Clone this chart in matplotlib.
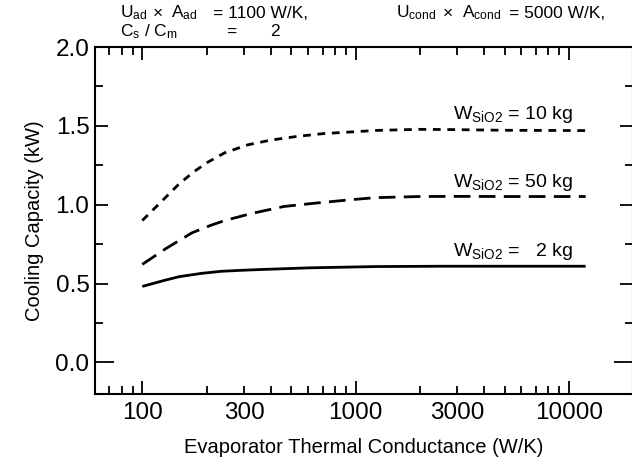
import matplotlib
matplotlib.use("Agg")
import matplotlib.pyplot as plt
from matplotlib.ticker import FixedLocator, FuncFormatter, MultipleLocator

plt.rcParams["font.family"] = ["Liberation Sans", "DejaVu Sans"]
plt.rcParams["mathtext.fontset"] = "custom"
plt.rcParams["mathtext.rm"] = "Liberation Sans"
plt.rcParams["mathtext.it"] = "Liberation Sans"
plt.rcParams["mathtext.default"] = "regular"

# Evaporator thermal conductance (W/K) vs cooling capacity (kW)
conductance_10kg = [100, 125, 149, 175, 200, 244, 313, 401, 532, 706, 972, 1245, 2000, 3000, 5000, 12000]
capacity_10kg = [0.90, 1.03, 1.133, 1.21, 1.265, 1.33, 1.38, 1.41, 1.433, 1.451, 1.462, 1.471,
                 1.478, 1.476, 1.472, 1.470]

conductance_50kg = [100, 129, 171, 210, 244, 324, 462, 658, 972, 1245, 2000, 3000, 5000, 12000]
capacity_50kg = [0.622, 0.722, 0.822, 0.87, 0.90, 0.944, 0.989, 1.011, 1.033, 1.045, 1.052, 1.053,
                 1.052, 1.052]

conductance_2kg = [100, 125, 149, 190, 235, 300, 373, 614, 1245, 2500, 5000, 12000]
capacity_2kg = [0.482, 0.518, 0.544, 0.565, 0.578, 0.585, 0.590, 0.600, 0.608, 0.610, 0.610, 0.610]

x_tick_values = [100, 300, 1000, 3000, 10000]
y_tick_values = [0.0, 0.5, 1.0, 1.5, 2.0]

W, H = 632, 457
fig = plt.figure(figsize=(W / 100, H / 100), dpi=100)
left, right, top, bottom = 95, 633, 47, 394
ax = fig.add_axes([left / W, 1 - bottom / H, (right - left) / W, (bottom - top) / H])

lw = 2.0
ax.plot(conductance_10kg, capacity_10kg, color="black", lw=lw, dashes=(2.8, 2.4))
ax.plot(conductance_50kg, capacity_50kg, color="black", lw=lw, dashes=(6.0, 3.0))
ax.plot(conductance_2kg, capacity_2kg, color="black", lw=lw, solid_capstyle="butt")

ax.set_xscale("log")
ax.set_xlim(60, 20000)
ax.set_ylim(-0.2, 2.0)

ax.xaxis.set_major_locator(FixedLocator([100, 1000, 10000]))
minor = [m * d for d in (10, 100, 1000) for m in range(2, 10)]
minor = [v for v in minor if 60 <= v <= 20000]
ax.xaxis.set_minor_locator(FixedLocator(minor))
ax.xaxis.set_major_formatter(FuncFormatter(lambda v, p: f"{v:.0f}"))
ax.xaxis.set_minor_formatter(
    FuncFormatter(lambda v, p: f"{v:.0f}" if round(v) in x_tick_values else ""))

ax.yaxis.set_major_locator(FixedLocator(y_tick_values))
ax.yaxis.set_minor_locator(MultipleLocator(0.25))
ax.yaxis.set_major_formatter(FuncFormatter(lambda v, p: f"{v:.1f}"))

for s in ax.spines.values():
    s.set_linewidth(1.5)

ax.tick_params(which="both", direction="in", top=True, right=True,
               labelsize=17.5, width=1.3, pad=6)
ax.tick_params(which="major", length=9.5)
ax.tick_params(which="minor", length=5.5)
ax.tick_params(axis="y", pad=4)

# the zero line tick is drawn longer on both sides
zero_tick = ax.yaxis.get_major_ticks()[0]
zero_tick.tick1line.set_markersize(14)
zero_tick.tick2line.set_markersize(14)

ax.set_xlabel("Evaporator Thermal Conductance (W/K)", fontsize=14.5, labelpad=10)
ax.set_ylabel("Cooling Capacity (kW)", fontsize=14.5, labelpad=8)

# curve annotations
lab_fs = 14
ax.text(2850, 1.571, r"W$_{SiO2}$ = 10 kg", fontsize=lab_fs, ha="left", va="center")
ax.text(2850, 1.138, r"W$_{SiO2}$ = 50 kg", fontsize=lab_fs, ha="left", va="center")
ax.text(2850, 0.704, r"W$_{SiO2}$ =   2 kg", fontsize=lab_fs, ha="left", va="center")

# operating conditions above the plot
hdr_fs = 12.5
y1, y2 = 1 - 13 / H, 1 - 32 / H


def header(x, y, s, ha="left"):
    fig.text(x / W, y, s, fontsize=hdr_fs, va="center", ha=ha)


header(120, y1, r"U$_{ad}$")
header(153, y1, "×")
header(171, y1, r"A$_{ad}$")
header(213, y1, "= 1100 W/K,")
header(396, y1, r"U$_{cond}$")
header(443, y1, "×")
header(462, y1, r"A$_{cond}$")
header(605, y1, "= 5000 W/K,", ha="right")
header(120, y2, r"C$_{s}$ / C$_{m}$")
header(226, y2, "=")
header(270, y2, "2")

fig.savefig("out.png", dpi=100)
